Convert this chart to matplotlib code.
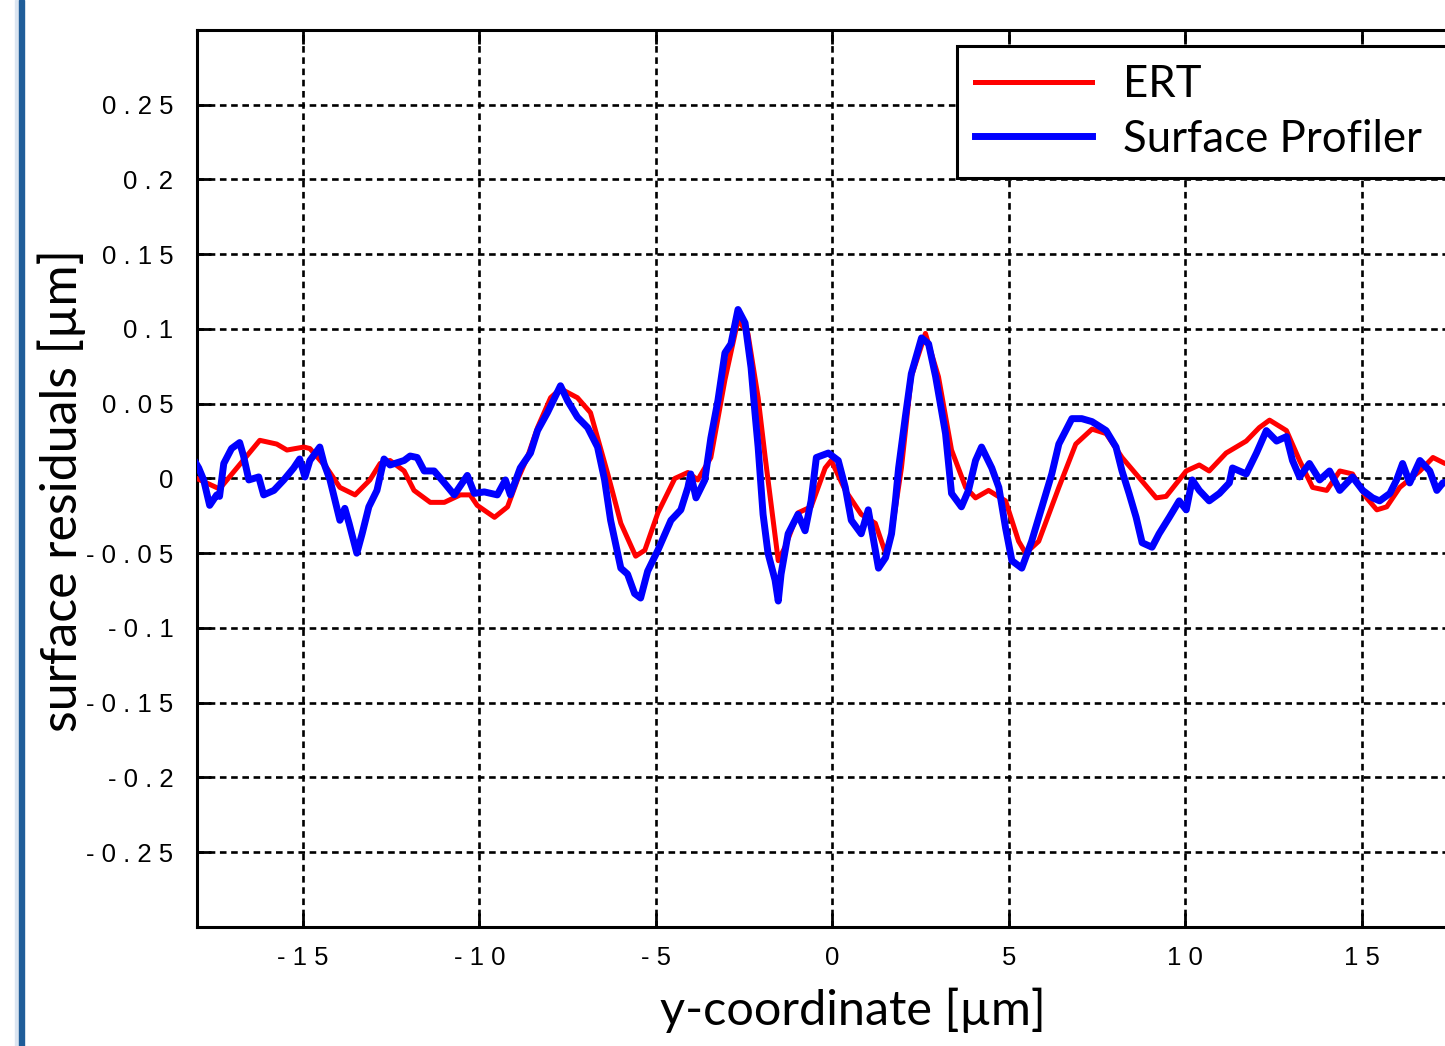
import matplotlib
matplotlib.use("Agg")
import matplotlib.pyplot as plt
from matplotlib.patches import Rectangle

# ERT profile (y-coordinate in um, residual in um)
ert_x = [-18.10, -17.36, -16.22, -15.74, -15.45, -14.97, -14.80, -14.32, -13.95, -13.52,
         -13.10, -12.81, -12.53, -12.13, -11.85, -11.39, -10.99, -10.54, -10.26, -10.06,
         -9.57, -9.20, -8.92, -8.64, -8.35, -7.98, -7.70, -7.22, -6.85, -6.36,
         -5.99, -5.57, -5.31, -4.94, -4.46, -4.09, -3.81, -3.44, -3.04, -2.67,
         -2.39, -2.10, -1.90, -1.53, -1.34, -0.97, -0.60, -0.20, -0.03, 0.37,
         0.82, 1.22, 1.51, 1.68, 1.96, 2.24, 2.64, 3.01, 3.38, 3.78,
         4.06, 4.43, 4.91, 5.28, 5.48, 5.85, 6.42, 6.90, 7.36, 7.76,
         8.21, 8.75, 9.18, 9.46, 10.03, 10.40, 10.68, 11.16, 11.73, 12.10,
         12.39, 12.87, 13.24, 13.61, 14.01, 14.38, 14.74, 15.14, 15.43, 15.71,
         16.08, 16.65, 17.02, 17.36, 18.0]
ert_y = [0.001, -0.007, 0.0255, 0.023, 0.019, 0.021, 0.020, 0.007, -0.006, -0.011,
         -0.001, 0.010, 0.012, 0.005, -0.008, -0.016, -0.016, -0.011, -0.011, -0.018,
         -0.026, -0.019, -0.001, 0.014, 0.034, 0.054, 0.060, 0.054, 0.044, 0.003,
         -0.030, -0.052, -0.048, -0.023, 0.000, 0.004, -0.001, 0.014, 0.066, 0.106,
         0.097, 0.054, 0.014, -0.055, -0.046, -0.023, -0.019, 0.007, 0.012, -0.008,
         -0.024, -0.030, -0.050, -0.037, 0.007, 0.068, 0.097, 0.068, 0.019, -0.006,
         -0.013, -0.008, -0.015, -0.042, -0.050, -0.042, -0.006, 0.023, 0.033, 0.030,
         0.014, -0.001, -0.013, -0.012, 0.005, 0.009, 0.005, 0.017, 0.025, 0.034,
         0.039, 0.032, 0.012, -0.006, -0.008, 0.005, 0.003, -0.013, -0.021, -0.019,
         -0.006, 0.005, 0.014, 0.010, 0.010]

# surface profiler measurement
sp_x = [-18.10, -17.95, -17.81, -17.64, -17.44, -17.36, -17.24, -17.02, -16.79, -16.68,
        -16.53, -16.25, -16.11, -15.82, -15.54, -15.26, -15.09, -14.94, -14.80, -14.52,
        -14.40, -14.23, -13.95, -13.81, -13.69, -13.47, -13.32, -13.13, -12.90, -12.70,
        -12.53, -12.13, -11.96, -11.76, -11.56, -11.28, -10.99, -10.71, -10.34, -10.14,
        -9.86, -9.49, -9.26, -9.12, -8.84, -8.55, -8.35, -8.07, -7.70, -7.50,
        -7.22, -6.93, -6.65, -6.45, -6.28, -5.99, -5.80, -5.60, -5.43, -5.23,
        -4.94, -4.57, -4.29, -4.09, -4.01, -3.86, -3.61, -3.44, -3.24, -3.04,
        -2.87, -2.67, -2.47, -2.30, -2.19, -2.10, -1.96, -1.82, -1.62, -1.53,
        -1.45, -1.25, -0.97, -0.77, -0.60, -0.45, -0.11, 0.17, 0.37, 0.54,
        0.82, 1.02, 1.31, 1.51, 1.68, 1.79, 1.88, 2.07, 2.24, 2.53,
        2.73, 2.93, 3.21, 3.38, 3.66, 3.86, 4.06, 4.23, 4.52, 4.72,
        4.91, 5.09, 5.37, 5.65, 5.94, 6.22, 6.42, 6.79, 7.07, 7.36,
        7.76, 8.04, 8.21, 8.41, 8.61, 8.78, 9.06, 9.26, 9.55, 9.83,
        10.03, 10.20, 10.40, 10.68, 10.97, 11.25, 11.34, 11.73, 12.02, 12.30,
        12.59, 12.87, 13.04, 13.24, 13.52, 13.81, 14.09, 14.38, 14.74, 15.03,
        15.31, 15.51, 15.80, 15.99, 16.16, 16.36, 16.65, 16.93, 17.13, 17.30,
        18.0]
sp_y = [0.013, 0.007, -0.001, -0.018, -0.011, -0.012, 0.010, 0.020, 0.024, 0.015,
        -0.001, 0.001, -0.011, -0.008, -0.001, 0.007, 0.013, 0.001, 0.012, 0.021,
        0.010, -0.001, -0.028, -0.020, -0.030, -0.050, -0.037, -0.019, -0.008, 0.013,
        0.009, 0.012, 0.015, 0.014, 0.005, 0.005, -0.003, -0.011, 0.002, -0.010,
        -0.009, -0.011, -0.001, -0.011, 0.007, 0.017, 0.032, 0.044, 0.062, 0.052,
        0.041, 0.034, 0.021, -0.001, -0.028, -0.060, -0.064, -0.077, -0.080, -0.062,
        -0.048, -0.028, -0.021, -0.006, 0.003, -0.013, -0.001, 0.027, 0.052, 0.084,
        0.090, 0.113, 0.104, 0.074, 0.044, 0.021, -0.024, -0.050, -0.068, -0.082,
        -0.064, -0.037, -0.024, -0.035, -0.015, 0.014, 0.017, 0.012, -0.006, -0.028,
        -0.037, -0.021, -0.060, -0.053, -0.037, -0.015, 0.007, 0.041, 0.070, 0.094,
        0.090, 0.068, 0.030, -0.010, -0.019, -0.008, 0.012, 0.021, 0.007, -0.006,
        -0.033, -0.055, -0.060, -0.042, -0.019, 0.003, 0.023, 0.040, 0.040, 0.038,
        0.032, 0.021, 0.005, -0.010, -0.026, -0.043, -0.046, -0.037, -0.026, -0.015,
        -0.021, -0.001, -0.008, -0.015, -0.010, -0.003, 0.007, 0.003, 0.017, 0.032,
        0.025, 0.028, 0.012, 0.001, 0.010, -0.001, 0.005, -0.008, 0.001, -0.008,
        -0.013, -0.015, -0.010, -0.001, 0.010, -0.003, 0.012, 0.005, -0.008, -0.003,
        0.0]

x_ticks = [-15, -10, -5, 0, 5, 10, 15]
y_ticks = [-0.25, -0.2, -0.15, -0.1, -0.05, 0, 0.05, 0.1, 0.15, 0.2, 0.25]


def spaced(v):
    # the original tick labels are letter-spaced
    return " ".join("%g" % v)


tick_font = ["Liberation Sans", "DejaVu Sans"]
label_font = ["Lato", "DejaVu Sans"]

fig = plt.figure(figsize=(14.45, 10.46), dpi=100)
ax = fig.add_axes([0.1363, 0.1138, 0.8793, 0.8576])

ax.plot(ert_x, ert_y, color="#ff0000", lw=3.6, label="ERT", zorder=3)
ax.plot(sp_x, sp_y, color="#0000ff", lw=5.0, label="Surface Profiler", zorder=4)

ax.set_xlim(-18, 18)
ax.set_ylim(-0.3, 0.3)
ax.set_xticks(x_ticks)
ax.set_yticks(y_ticks)
ax.set_xticklabels([spaced(v) for v in x_ticks], family=tick_font, fontsize=18.5)
ax.set_yticklabels([spaced(v) for v in y_ticks], family=tick_font, fontsize=18.5)
ax.tick_params(direction="in", length=10, width=2, top=True, right=True, color="black")
ax.tick_params(axis="x", pad=14)
ax.tick_params(axis="y", pad=17)

ax.grid(True, color="black", linestyle=(0, (2.5, 1.75)), linewidth=1.9)
for sp in ax.spines.values():
    sp.set_linewidth(2.2)
    sp.set_color("black")

ax.set_xlabel("y-coordinate [µm]", family=label_font, fontsize=35)
ax.set_ylabel("surface residuals [µm]", family=label_font, fontsize=36)
ax.xaxis.set_label_coords(0.516, -0.068)
ax.yaxis.set_label_coords(-0.087, 0.487)

leg = ax.legend(loc="upper left", bbox_to_anchor=(0.598, 0.5, 0.40, 0.482), mode="expand",
                fancybox=False, edgecolor="black", framealpha=1,
                prop={"family": label_font, "size": 31.5},
                handlelength=2.67, handletextpad=0.7, borderpad=0.42, labelspacing=0.3,
                borderaxespad=0)
leg.get_frame().set_linewidth(2.2)
leg.set_zorder(10)

# slide border on the left
fig.patches.append(Rectangle((0.0104, 0), 0.0028, 1, transform=fig.transFigure,
                             color="#dbe5f1", zorder=0))
fig.patches.append(Rectangle((0.0132, 0), 0.0035, 1, transform=fig.transFigure,
                             color="#1f5d99", zorder=0))

fig.savefig("out.png", dpi=100)
